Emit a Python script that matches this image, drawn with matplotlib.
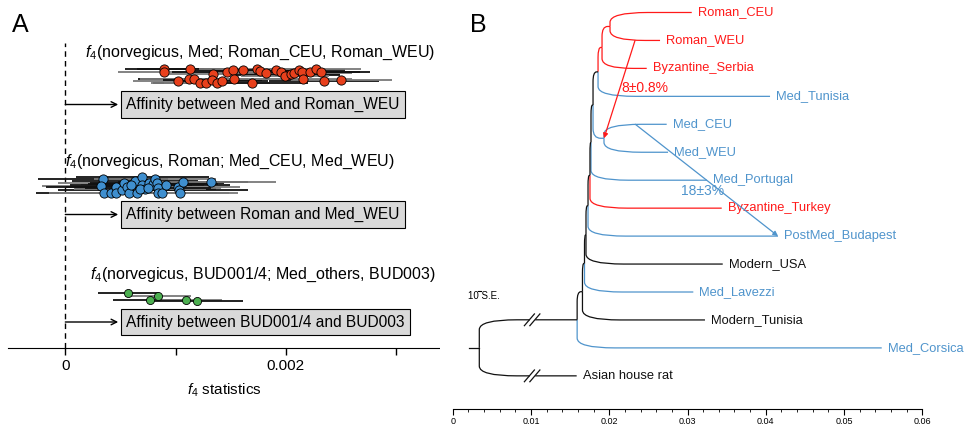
import numpy as np
import matplotlib
matplotlib.use('Agg')
import matplotlib.pyplot as plt
from matplotlib.path import Path
from matplotlib.patches import PathPatch

plt.rcParams['font.family'] = 'Liberation Sans'
plt.rcParams['mathtext.fontset'] = 'custom'
plt.rcParams['mathtext.rm'] = 'Liberation Sans'
plt.rcParams['mathtext.it'] = 'Liberation Sans:italic'

# ---------------- panel A data (f4 in units of 1e-4) ----------------
red_f4 = [8.99, 8.99, 11.31, 13.37, 14.66, 15.23, 16.14, 17.35, 17.65, 18.25, 19.10, 19.61,
          20.21, 19.97, 20.45, 20.72, 21.2, 21.5, 22.17, 22.71, 23.23, 10.25, 11.22, 11.70,
          12.22, 12.76, 13.33, 13.73, 14.18, 15.32, 16.9, 21.57, 23.47, 25.04]
red_y = [279.5, 276.5, 279.5, 274.5, 276.5, 278, 278, 279, 277, 275.5, 278.5, 276.5,
         273.5, 272, 274.5, 275, 278, 276, 276, 279, 276.5, 267, 269, 269.5,
         265.5, 265, 268, 265, 267, 269, 265.5, 269, 267.5, 268]
red_hw = [3.6, 4.2, 4.8, 4.5, 5.0, 4.1, 4.6, 5.2, 4.4, 4.9, 4.3, 5.1,
          4.7, 4.0, 4.5, 5.3, 4.2, 4.8, 4.6, 4.1, 4.4, 4.1, 4.6, 4.9,
          4.3, 5.0, 4.5, 4.8, 4.2, 4.7, 5.1, 4.4, 5.0, 4.6]

blue_f4 = [3.38, 3.26, 3.47, 4.16, 4.59, 4.59, 5.13, 5.34, 5.58, 5.79, 6.33, 6.49,
           7.00, 7.00, 7.24, 7.60, 7.94, 8.14, 8.30, 8.44, 8.39, 8.81, 9.11, 10.25,
           10.34, 10.41, 10.65, 13.19, 5.97, 6.79, 7.48]
blue_y = [168.7, 162, 155.3, 155.3, 161.3, 155.3, 158, 165.3, 161.3, 155.3, 167.3, 155.3,
          170.7, 163, 158.7, 165.3, 164, 168.7, 165.3, 159.7, 155.3, 155.3, 163, 161.3,
          158, 154.7, 166.3, 166.3, 163, 158.7, 159.7]
blue_hw = [5.9, 5.4, 6.1, 5.6, 6.3, 5.2, 5.8, 6.0, 5.5, 6.2, 5.7, 5.3,
           6.0, 5.6, 6.4, 5.1, 5.9, 5.5, 6.1, 5.7, 5.4, 6.0, 5.8, 5.6,
           6.2, 5.3, 5.9, 5.9, 5.5, 6.0, 5.7]

green_f4 = [5.73, 8.44, 7.69, 10.92, 11.92]
green_y = [54.7, 52, 48, 48.5, 47.5]
green_hw = [2.8, 3.0, 3.4, 3.3, 4.2]

titles = ['$f_4$(norvegicus, Med; Roman_CEU, Roman_WEU)',
          '$f_4$(norvegicus, Roman; Med_CEU, Med_WEU)',
          '$f_4$(norvegicus, BUD001/4; Med_others, BUD003)']
title_x = [1.81e-4, 0.0, 2.26e-4]
title_y = [295, 186, 73]
boxes = ['Affinity between Med and Roman_WEU',
         'Affinity between Roman and Med_WEU',
         'Affinity between BUD001/4 and BUD003']
box_y = [243.5, 133.5, 26]

# ---------------- panel B data (tree) ----------------
leaves = ['Roman_CEU', 'Roman_WEU', 'Byzantine_Serbia', 'Med_Tunisia', 'Med_CEU', 'Med_WEU',
          'Med_Portugal', 'Byzantine_Turkey', 'PostMed_Budapest', 'Modern_USA', 'Med_Lavezzi',
          'Modern_Tunisia', 'Med_Corsica', 'Asian house rat']
leaf_drift = [0.03054, 0.02649, 0.02479, 0.04054, 0.02734, 0.02751, 0.03248, 0.03437,
              0.04156, 0.0345, 0.03074, 0.03223, 0.05481, 0.01584]
leaf_group = ['roman', 'roman', 'roman', 'med', 'med', 'med', 'med', 'roman', 'med',
              'modern', 'med', 'modern', 'med', 'modern']

nodes = {
    'R': (['Roman_CEU', 'Roman_WEU'], 0.0201, 'roman'),
    'S': (['R', 'Byzantine_Serbia'], 0.01908, 'roman'),
    'T': (['S', 'Med_Tunisia'], 0.01857, 'modern'),
    'M': (['Med_CEU', 'Med_WEU'], 0.01933, 'med'),
    'U': (['T', 'M'], 0.01793, 'modern'),
    'V': (['U', 'Med_Portugal'], 0.01767, 'modern'),
    'W': (['V', 'Byzantine_Turkey'], 0.01754, 'modern'),
    'X': (['W', 'PostMed_Budapest'], 0.01729, 'modern'),
    'Y': (['X', 'Modern_USA'], 0.01703, 'modern'),
    'Z': (['Y', 'Med_Lavezzi'], 0.01684, 'modern'),
    'AA': (['Z', 'Modern_Tunisia'], 0.01658, 'modern'),
    'AB': (['AA', 'Med_Corsica'], 0.0159, 'modern'),
    'root': (['AB', 'Asian house rat'], 0.0034, 'modern'),
}
group_color = {'roman': '#ff1a1a', 'med': '#4f94cc', 'modern': '#111111'}

mig_src = ['Roman_WEU', 'Med_CEU']
mig_dst = ['M', 'PostMed_Budapest']
mig_group = ['roman', 'med']
mig_label = ['8\u00b10.8%', '18\u00b13%']
mig_label_pos = [(0.02457, 2.70), (0.03192, 6.39)]
break_x = [0.0098, 0.0105]

# ---------------- figure ----------------
fig = plt.figure(figsize=(9.69, 4.26), dpi=100)

axA = fig.add_axes([8 / 969, 78 / 426, 432 / 969, 348 / 426])
axA.set_xlim(-0.00052, 0.0034)
axA.set_ylim(0, 348)
for sp in ['left', 'top', 'right']:
    axA.spines[sp].set_visible(False)
axA.set_yticks([])
axA.set_xticks([0, 0.002])
axA.set_xticklabels(['0', '0.002'])
axA.set_xticks([0.001, 0.003], minor=True)
axA.tick_params(axis='x', which='both', length=5, width=1, labelsize=11, pad=3)
axA.set_xlabel('$f_4$ statistics', fontsize=11, labelpad=6)
axA.plot([0, 0], [0, 305], ls=(0, (4, 3)), color='black', lw=1)

groups = [(red_f4, red_y, red_hw, '#e8401c', 44),
          (blue_f4, blue_y, blue_hw, '#3f8fcf', 44),
          (green_f4, green_y, green_hw, '#4caf50', 34)]
for f4, yy, hw, col, s in groups:
    f4 = np.array(f4) * 1e-4
    hw = np.array(hw) * 1e-4
    bar_cols = ['#111111' if i % 2 == 0 else '#7a7a7a' for i in range(len(f4))]
    axA.hlines(yy, f4 - hw, f4 + hw, colors=bar_cols, lw=1.3, zorder=2)
    axA.scatter(f4, yy, s=s, c=col, edgecolors='black', linewidths=0.6, zorder=3)

for t, tx, ty in zip(titles, title_x, title_y):
    axA.text(tx, ty, t, fontsize=11.5, va='center', ha='left')
for b, by in zip(boxes, box_y):
    axA.text(5.52e-4, by, b, fontsize=11.2, va='center', ha='left',
             bbox=dict(boxstyle='square,pad=0.35', fc='#d9d9d9', ec='black', lw=0.8))
    axA.annotate('', xy=(4.8e-4, by), xytext=(0, by),
                 arrowprops=dict(arrowstyle='->', lw=1, color='black', shrinkA=0, shrinkB=0))

fig.text(12 / 969, 1 - 25 / 426, 'A', fontsize=18, va='center', ha='left')
fig.text(470 / 969, 1 - 25 / 426, 'B', fontsize=18, va='center', ha='left')

# ---------------- panel B ----------------
axB = fig.add_axes([440 / 969, 0, 529 / 969, 1])
axB.set_xlim(-0.00162, 0.06596)
axB.set_ylim(14.794, -0.447)
for sp in ['left', 'top', 'right']:
    axB.spines[sp].set_visible(False)
axB.spines['bottom'].set_position(('data', 14.186))
axB.spines['bottom'].set_bounds(0, 0.06)
axB.spines['bottom'].set_linewidth(0.8)
axB.set_yticks([])
axB.set_xticks(np.arange(0, 0.0601, 0.01))
axB.set_xticklabels(['0', '0.01', '0.02', '0.03', '0.04', '0.05', '0.06'])
axB.set_xticks(np.arange(0, 0.0601, 0.002), minor=True)
axB.tick_params(axis='x', which='major', length=4, width=0.8, labelsize=6.5, pad=2)
axB.tick_params(axis='x', which='minor', length=2.5, width=0.6)

pos = {}
for name, x in zip(leaves, leaf_drift):
    pos[name] = (x, leaves.index(name))
col_of = {name: group_color[g] for name, g in zip(leaves, leaf_group)}


def place(name):
    if name in pos:
        return pos[name]
    kids, x, g = nodes[name]
    y = np.mean([place(k)[1] for k in kids])
    pos[name] = (x, y)
    col_of[name] = group_color[g]
    return pos[name]


place('root')


def edge_path(x0, y0, x1, y1, rx=0.0048, ry=0.35):
    dy = y1 - y0
    r = min(ry, abs(dy)) * np.sign(dy)
    rx = min(rx, 0.7 * (x1 - x0))
    verts = [(x0, y0), (x0, y1 - r), (x0, y1), (x0 + rx, y1), (x1, y1)]
    codes = [Path.MOVETO, Path.LINETO, Path.CURVE3, Path.CURVE3, Path.LINETO]
    return Path(verts, codes)


for name, (kids, x, g) in nodes.items():
    x0, y0 = pos[name]
    for k in kids:
        x1, y1 = pos[k]
        axB.add_patch(PathPatch(edge_path(x0, y0, x1, y1), fc='none', ec=col_of[k], lw=0.9))

# root stub
rx0, ry0 = pos['root']
axB.plot([0.00204, rx0], [ry0, ry0], color='#111111', lw=0.9)

# breaks on the long root branches
for k in nodes['root'][0]:
    yb = pos[k][1]
    axB.plot([break_x[0] + 0.0002, break_x[1] - 0.0002], [yb, yb], color='white', lw=2.5, zorder=3)
    for bx in break_x:
        axB.plot([bx - 0.00064, bx + 0.00064], [yb + 0.21, yb - 0.21], color='#111111', lw=0.9, zorder=4)

for name in leaves:
    x, y = pos[name]
    axB.text(x + 0.00075, y, name, color=col_of[name], fontsize=9.3, va='center', ha='left')

for src, dst, g, lab, lp in zip(mig_src, mig_dst, mig_group, mig_label, mig_label_pos):
    parent = [n for n, v in nodes.items() if src in v[0]][0]
    sx = (pos[parent][0] + pos[src][0]) / 2
    sy = pos[src][1]
    axB.annotate('', xy=pos[dst], xytext=(sx, sy),
                 arrowprops=dict(arrowstyle='-|>', lw=0.9, color=group_color[g],
                                 mutation_scale=7, shrinkA=0, shrinkB=0))
    axB.text(lp[0], lp[1], lab, color=group_color[g], fontsize=10, ha='center', va='center')

axB.text(0.00195, 10.14, '10 S.E.', fontsize=7, va='center', ha='left')
axB.plot([0.00322, 0.0036], [9.98, 9.98], color='black', lw=0.8)

fig.savefig('out.png', dpi=100)
